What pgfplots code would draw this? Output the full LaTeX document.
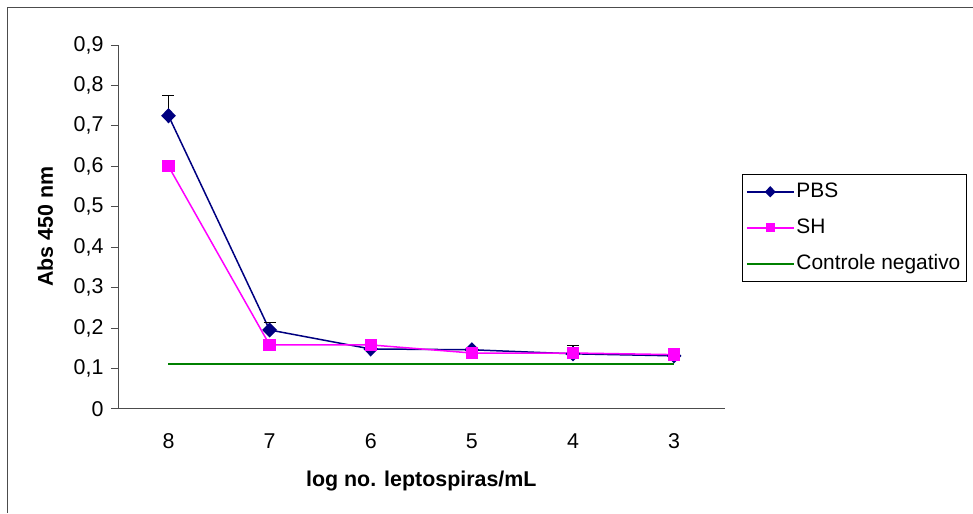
\documentclass[border=0pt]{standalone}
\usepackage{fontspec}
\setmainfont{Liberation Sans}
\usepackage{pgfplots}
\usepackage{pgfplotstable}
\pgfplotsset{compat=1.18}

\definecolor{pbs}{RGB}{0,0,128}
\definecolor{sh}{RGB}{255,0,255}
\definecolor{ctrl}{RGB}{0,128,0}

% x: 0..5 = log 8..3
\pgfplotstableread{
x y err
0 0.725 0.050
1 0.195 0.018
2 0.148 0.010
3 0.146 0.005
4 0.136 0.020
5 0.131 0.005
}\pbsdata
\pgfplotstableread{
x y err
0 0.600 0.010
1 0.158 0.003
2 0.158 0.004
3 0.138 0.003
4 0.138 0.003
5 0.134 0.004
}\shdata
\pgfplotstableread{
x y
0 0.111
1 0.111
2 0.111
3 0.111
4 0.111
5 0.111
}\ctrldata

\begin{document}
\begin{tikzpicture}
\begin{axis}[
  name=ax,
  scale only axis, width=607bp, height=364bp,
  xmin=-0.5, xmax=5.5, ymin=0, ymax=0.9,
  axis x line*=bottom, axis y line*=left,
  axis line style={black!70, line width=0.8bp},
  tick align=outside,
  ytick={0,0.1,0.2,0.3,0.4,0.5,0.6,0.7,0.8,0.9},
  major tick length=7bp,
  tick style={black!70, line width=0.8bp},
  yticklabel style={xshift=-4bp, /pgf/number format/.cd, use comma, fixed, precision=1},
  /pgf/number format/assume math mode=true,
  xtick={0,1,2,3,4,5}, xticklabels={8,7,6,5,4,3},
  x tick style={draw=none},
  extra x ticks={-0.5,0.5,1.5,2.5,3.5,4.5,5.5},
  extra x tick labels={},
  extra x tick style={tick style={draw=black!70}, major tick length=6bp},
  every tick label/.append style={font=\fontsize{21.5}{25}\selectfont},
  xticklabel style={yshift=-14bp},
  label style={font=\fontsize{21.5}{25}\selectfont\bfseries},
  xlabel={log no. leptospiras/mL},
  ylabel={Abs 450 nm},
  xlabel style={at={(axis description cs:0.5,-0.198)}, anchor=center},
  ylabel style={at={(axis description cs:-0.12,0.5)}, anchor=center},
  legend style={at={(1.028,0.6456)}, anchor=north west, draw=black, line width=0.8bp,
    font=\fontsize{21}{25}\selectfont, row sep=13bp, inner xsep=4bp, inner ysep=6bp,
    nodes={inner xsep=2bp, inner ysep=2bp, text height=15bp, text depth=4bp}},
  legend cell align=left,
  legend image code/.code={
    \draw[mark repeat=2,mark phase=2, every mark/.append style={scale=0.7}]
      plot coordinates {(0bp,0bp) (23.5bp,0bp) (47bp,0bp)};},
]
\addplot[ctrl, line width=1.5bp, forget plot] table[x=x, y=y] {\ctrldata};
\addplot[pbs, line width=1.5bp, mark=diamond*, mark size=6.5bp,
  mark options={xscale=1.3, solid, fill=pbs},
  error bars/.cd, y dir=plus, y explicit,
  error bar style={black, line width=1.2bp},
  error mark options={black, rotate=90, mark size=6bp, line width=1.2bp}]
  table[x=x, y=y, y error=err] {\pbsdata};
\addplot[sh, line width=1.5bp, mark=square*, mark size=5.4bp, mark options={solid, fill=sh},
  error bars/.cd, y dir=plus, y explicit,
  error bar style={black, line width=1.2bp},
  error mark options={black, rotate=90, mark size=6bp, line width=1.2bp}]
  table[x=x, y=y, y error=err] {\shdata};
\addlegendimage{ctrl, line width=1.5bp}
\legend{PBS, SH, Controle negativo}
\end{axis}
% page = 973 x 513 bp, axis origin at (118,104)
\path ([shift={(-118bp,-104bp)}]ax.south west) rectangle ([shift={(855bp,409bp)}]ax.south west);
\draw[black!70, line width=1bp] ([shift={(-110bp,-104bp)}]ax.south west) -- ([shift={(-110bp,401bp)}]ax.south west) -- ([shift={(855bp,401bp)}]ax.south west);
\end{tikzpicture}
\end{document}
